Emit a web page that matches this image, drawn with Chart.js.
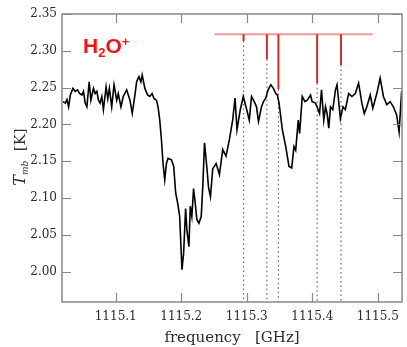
<!DOCTYPE html>
<html>
<head>
<meta charset="utf-8">
<script src="https://cdn.jsdelivr.net/npm/chart.js@4/dist/chart.umd.min.js"></script>
<style>
html,body{margin:0;padding:0;background:#fff;}
#wrap{width:407px;height:347px;}
</style>
</head>
<body>
<div id="wrap"><canvas id="c" width="407" height="347"></canvas></div>
<script>
// Spectrum (frequency in GHz, T_mb in K)
const freqGHz = [1115.0196,1115.0231,1115.0256,1115.0281,1115.0307,1115.0347,1115.0382,1115.0417,1115.0448,1115.0484,
1115.0508,1115.0534,1115.0560,1115.0595,1115.0621,1115.0660,1115.0686,1115.0712,1115.0736,1115.0762,
1115.0788,1115.0812,1115.0853,1115.0879,1115.0903,1115.0939,1115.0974,1115.1015,1115.1039,1115.1080,
1115.1115,1115.1167,1115.1217,1115.1252,1115.1293,1115.1319,1115.1354,1115.1384,1115.1404,1115.1445,
1115.1486,1115.1520,1115.1555,1115.1586,1115.1622,1115.1646,1115.1672,1115.1698,1115.1722,1115.1748,
1115.1774,1115.1798,1115.1850,1115.1885,1115.1915,1115.1950,1115.1976,1115.2011,1115.2036,1115.2067,
1115.2086,1115.2117,1115.2138,1115.2162,1115.2188,1115.2214,1115.2238,1115.2269,1115.2305,1115.2329,
1115.2355,1115.2390,1115.2416,1115.2446,1115.2481,1115.2533,1115.2583,1115.2633,1115.2684,1115.2734,
1115.2785,1115.2821,1115.2851,1115.2901,1115.2947,1115.2988,1115.3038,1115.3073,1115.3114,1115.3149,
1115.3179,1115.3225,1115.3255,1115.3291,1115.3326,1115.3367,1115.3407,1115.3443,1115.3467,1115.3493,
1115.3543,1115.3595,1115.3645,1115.3686,1115.3721,1115.3747,1115.3786,1115.3807,1115.3847,1115.3888,
1115.3923,1115.3974,1115.3998,1115.4050,1115.4090,1115.4111,1115.4141,1115.4176,1115.4202,1115.4226,
1115.4252,1115.4278,1115.4313,1115.4354,1115.4378,1115.4429,1115.4469,1115.4505,1115.4555,1115.4605,
1115.4657,1115.4707,1115.4757,1115.4794,1115.4833,1115.4885,1115.4924,1115.4985,1115.5036,1115.5086,
1115.5137,1115.5188,1115.5238,1115.5288,1115.5325,1115.5364];
const tmbK = [2.231,2.229,2.234,2.224,2.240,2.249,2.245,2.247,2.242,2.240,
2.245,2.229,2.224,2.258,2.233,2.249,2.242,2.245,2.233,2.229,
2.238,2.220,2.251,2.235,2.249,2.224,2.254,2.233,2.242,2.224,
2.238,2.247,2.233,2.215,2.240,2.258,2.265,2.258,2.267,2.249,
2.240,2.238,2.242,2.235,2.233,2.224,2.206,2.179,2.147,2.125,
2.147,2.154,2.152,2.143,2.107,2.091,2.075,2.003,2.025,2.086,
2.057,2.034,2.089,2.075,2.113,2.093,2.071,2.066,2.075,2.116,
2.175,2.143,2.115,2.102,2.140,2.147,2.132,2.166,2.157,2.179,
2.206,2.236,2.193,2.220,2.238,2.224,2.206,2.238,2.231,2.224,
2.204,2.224,2.231,2.236,2.247,2.254,2.249,2.242,2.240,2.229,
2.193,2.170,2.143,2.141,2.170,2.165,2.206,2.188,2.238,2.231,
2.233,2.240,2.231,2.229,2.220,2.215,2.247,2.206,2.224,2.215,
2.195,2.224,2.220,2.247,2.254,2.208,2.224,2.220,2.242,2.238,
2.242,2.256,2.229,2.215,2.224,2.240,2.222,2.242,2.263,2.238,
2.227,2.231,2.224,2.213,2.190,2.245];

// H2O+ hyperfine components: positions and relative strengths (bar bottoms)
const lineFreqs = [1115.2951, 1115.3307, 1115.3483, 1115.4074, 1115.4438];
const lineBottoms = [2.3134, 2.2885, 2.248, 2.256, 2.2808];
const lineTop = 2.3225;
const combSpan = [1115.2507, 1115.492];

const xTicks = [1115.1, 1115.2, 1115.3, 1115.4, 1115.5];
const yTicks = [2.00, 2.05, 2.10, 2.15, 2.20, 2.25, 2.30, 2.35];
const xRange = [1115.018, 1115.537];
const yRange = [1.959, 2.35];

const datasets = [];
datasets.push({
  data: freqGHz.map((f, i) => ({x: f, y: tmbK[i]})),
  borderColor: '#000', borderWidth: 1.6, pointRadius: 0, showLine: true, tension: 0, order: 1
});
lineFreqs.forEach((f, i) => {
  datasets.push({
    data: [{x: f, y: lineTop}, {x: f, y: lineBottoms[i]}],
    borderColor: '#d42a2a', borderWidth: 2, pointRadius: 0, showLine: true, order: 2
  });
  datasets.push({
    data: [{x: f, y: lineBottoms[i]}, {x: f, y: yRange[0]}],
    borderColor: '#666', borderWidth: 1.2, borderDash: [1.5, 3], pointRadius: 0, showLine: true, order: 4
  });
});
datasets.push({
  data: [{x: combSpan[0], y: lineTop}, {x: combSpan[1], y: lineTop}],
  borderColor: '#e99a9a', borderWidth: 2, pointRadius: 0, showLine: true, order: 3
});

const frame = {
  id: 'frame',
  afterDatasetsDraw(chart) {
    const {ctx, chartArea: a, scales} = chart;
    ctx.save();
    ctx.strokeStyle = '#888';
    ctx.lineWidth = 1.5;
    ctx.strokeRect(a.left, a.top, a.right - a.left, a.bottom - a.top);
    ctx.beginPath();
    const L = 9;
    xTicks.forEach(v => {
      const px = Math.round(scales.x.getPixelForValue(v)) + 0.5;
      ctx.moveTo(px, a.bottom); ctx.lineTo(px, a.bottom - L);
      ctx.moveTo(px, a.top); ctx.lineTo(px, a.top + L);
    });
    yTicks.forEach(v => {
      const py = Math.round(scales.y.getPixelForValue(v)) + 0.5;
      ctx.moveTo(a.left, py); ctx.lineTo(a.left + L, py);
      ctx.moveTo(a.right, py); ctx.lineTo(a.right - L, py);
    });
    ctx.lineWidth = 1.2;
    ctx.stroke();

    // y-axis title: T_mb [K]
    ctx.translate(20, 157);
    ctx.rotate(-Math.PI / 2);
    ctx.fillStyle = '#333';
    const fT = 'italic 16px "DejaVu Serif"';
    const fS = 'italic 9px "DejaVu Serif"';
    const fK = '15px "DejaVu Serif"';
    ctx.font = fT; const wT = ctx.measureText('T').width;
    ctx.font = fS; const wS = ctx.measureText('mb').width;
    ctx.font = fK; const wK = ctx.measureText('  [K]').width;
    let x0 = -(wT + wS + wK) / 2;
    ctx.textBaseline = 'alphabetic';
    ctx.font = fT; ctx.fillText('T', x0, 5); x0 += wT;
    ctx.font = fS; ctx.fillText('mb', x0, 8); x0 += wS;
    ctx.font = fK; ctx.fillText('  [K]', x0, 5);
    ctx.restore();

    // species label
    ctx.save();
    ctx.fillStyle = '#f01414';
    ctx.textBaseline = 'alphabetic';
    let x = 83;
    ctx.font = 'bold 21px "Liberation Sans"';
    ctx.fillText('H', x, 52.5); x += ctx.measureText('H').width;
    ctx.font = 'bold 13px "Liberation Sans"';
    ctx.fillText('2', x, 57); x += ctx.measureText('2').width;
    ctx.font = 'bold 21px "Liberation Sans"';
    ctx.fillText('O', x, 52.5); x += ctx.measureText('O').width;
    ctx.font = 'bold 13px "Liberation Sans"';
    ctx.fillText('+', x, 46);
    ctx.restore();
  }
};

new Chart(document.getElementById('c'), {
  type: 'scatter',
  data: {datasets},
  options: {
    responsive: false,
    animation: false,
    devicePixelRatio: 1,
    layout: {padding: {top: 14, right: 3, left: 0, bottom: 0}},
    plugins: {legend: {display: false}, tooltip: {enabled: false}},
    scales: {
      x: {
        type: 'linear', min: xRange[0], max: xRange[1],
        afterBuildTicks: s => { s.ticks = xTicks.map(v => ({value: v})); },
        afterFit: s => { s.height = 45; },
        grid: {display: false, drawTicks: false},
        border: {display: false},
        ticks: {
          padding: 8, color: '#2a2a2a', font: {family: 'DejaVu Serif', size: 12},
          callback: v => v.toFixed(1), maxRotation: 0, autoSkip: false
        },
        title: {display: true, text: 'frequency   [GHz]', color: '#2a2a2a',
          font: {family: 'DejaVu Serif', size: 15}, padding: {top: 1, bottom: 0}}
      },
      y: {
        type: 'linear', min: yRange[0], max: yRange[1],
        afterBuildTicks: s => { s.ticks = yTicks.map(v => ({value: v})); },
        afterFit: s => { s.width = 62; },
        grid: {display: false, drawTicks: false},
        border: {display: false},
        ticks: {
          padding: 5, color: '#2a2a2a', font: {family: 'DejaVu Serif', size: 12},
          callback: v => v.toFixed(2), autoSkip: false
        }
      }
    }
  },
  plugins: [frame]
});
</script>
</body>
</html>
